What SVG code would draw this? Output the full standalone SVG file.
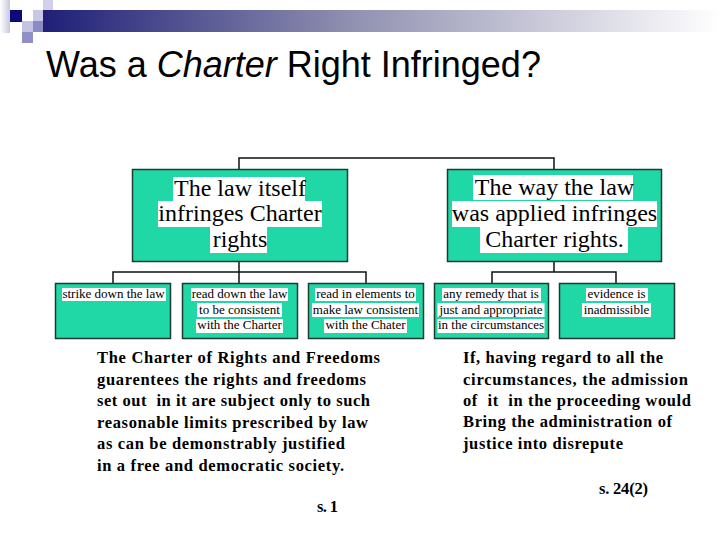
<svg xmlns="http://www.w3.org/2000/svg" width="720" height="540" viewBox="0 0 720 540">
<defs>
<linearGradient id="bar" x1="0" y1="0" x2="1" y2="0">
<stop offset="0" stop-color="#1f1f78"/>
<stop offset="0.45" stop-color="#8f8fb0"/>
<stop offset="1" stop-color="#ffffff"/>
</linearGradient>
<linearGradient id="strip" x1="0" y1="0" x2="1" y2="0">
<stop offset="0" stop-color="#ffffff"/>
<stop offset="1" stop-color="#c8c8e6"/>
</linearGradient>
<style>
.box{fill:#20d8a6;stroke:#1d3a30;stroke-width:1.5}
.hl{fill:#ffffff}
.big{font-family:"Liberation Serif","Times New Roman",serif;font-size:24px;fill:#000;text-anchor:middle}
.sm{font-family:"Liberation Serif","Times New Roman",serif;font-size:13px;fill:#000;text-anchor:middle}
.para{font-family:"Liberation Serif","Times New Roman",serif;font-size:16.5px;font-weight:bold;fill:#000;white-space:pre}
.conn{fill:none;stroke:#111;stroke-width:1.5}
</style>
</defs>
<rect width="720" height="540" fill="#ffffff"/>
<g id="logo">
<rect x="0" y="0" width="10" height="33" fill="url(#strip)"/>
<rect x="43" y="10" width="677" height="22" fill="url(#bar)"/>
<rect x="10" y="10" width="12" height="12" fill="#0c0c78"/>
<rect x="33" y="10" width="10" height="11" fill="#c8c8e4"/>
<rect x="43" y="0" width="10" height="10" fill="#d0d0ea"/>
<rect x="22" y="21" width="11" height="11" fill="#c4c4e2"/>
<rect x="33" y="21" width="10" height="11" fill="#8a8ac4"/>
<rect x="22" y="32" width="11" height="11" fill="#9090c8"/>
</g>
<text id="title" x="46" y="77" font-family="Liberation Sans, Arial, sans-serif" font-size="36" fill="#000">Was a <tspan font-style="italic">Charter</tspan> Right Infringed?</text>
<g id="connectors">
<path class="conn" d="M239 169 V158 H554 V169"/>
<path class="conn" d="M239 261 V283 M113 283 V272 H366 V283"/>
<path class="conn" d="M554 261 V272 M492 283 V272 H616 V283"/>
</g>
<g id="law-itself">
<rect class="box" x="132.5" y="169.5" width="215" height="92"/>
<rect class="hl" x="173" y="177" width="132" height="24"/>
<rect class="hl" x="158" y="201" width="164" height="26"/>
<rect class="hl" x="210" y="227" width="57" height="26"/>
<text class="big" x="240" y="196">The law itself</text>
<text class="big" x="240" y="221">infringes Charter</text>
<text class="big" x="240" y="247">rights</text>
</g>
<g id="law-applied">
<rect class="box" x="447.5" y="169.5" width="214" height="92"/>
<rect class="hl" x="473" y="175" width="160" height="25"/>
<rect class="hl" x="452" y="201" width="205" height="26"/>
<rect class="hl" x="480" y="227" width="148" height="26"/>
<text class="big" x="554.5" y="195">The way the law</text>
<text class="big" x="554.5" y="221">was applied infringes</text>
<text class="big" x="554.5" y="247">Charter rights.</text>
</g>
<g id="strike-down">
<rect class="box" x="55.5" y="283.5" width="115" height="55"/>
<rect class="hl" x="62" y="288" width="104" height="13"/>
<text class="sm" x="113.5" y="298">strike down the law</text>
</g>
<g id="read-down">
<rect class="box" x="182.5" y="283.5" width="115" height="55"/>
<rect class="hl" x="191" y="288" width="97" height="13"/>
<rect class="hl" x="197" y="303" width="85" height="14"/>
<rect class="hl" x="196" y="319" width="87" height="14"/>
<text class="sm" x="239.5" y="298">read down the law</text>
<text class="sm" x="239.5" y="313.5">to be consistent</text>
<text class="sm" x="239.5" y="329">with the Charter</text>
</g>
<g id="read-in">
<rect class="box" x="308.5" y="283.5" width="115" height="55"/>
<rect class="hl" x="315" y="288" width="101" height="13"/>
<rect class="hl" x="312" y="303" width="107" height="14"/>
<rect class="hl" x="324" y="319" width="83" height="14"/>
<text class="sm" x="365.5" y="298">read in elements to</text>
<text class="sm" x="365.5" y="313.5">make law consistent</text>
<text class="sm" x="365.5" y="329">with the Chater</text>
</g>
<g id="any-remedy">
<rect class="box" x="434.5" y="283.5" width="114" height="55"/>
<rect class="hl" x="442" y="288" width="99" height="13"/>
<rect class="hl" x="437.5" y="303" width="107" height="14"/>
<rect class="hl" x="437.5" y="319" width="107" height="14"/>
<text class="sm" x="491" y="298">any remedy that is</text>
<text class="sm" x="491" y="313.5">just and appropriate</text>
<text class="sm" x="491" y="329">in the circumstances</text>
</g>
<g id="inadmissible">
<rect class="box" x="559.5" y="283.5" width="115" height="55"/>
<rect class="hl" x="586" y="288" width="62" height="13"/>
<rect class="hl" x="582" y="303" width="69" height="14"/>
<text class="sm" x="616.5" y="298">evidence is</text>
<text class="sm" x="616.5" y="313.5">inadmissible</text>
</g>
<g id="s1-text">
<text class="para" x="97" y="363" textLength="283" lengthAdjust="spacing">The Charter of Rights and Freedoms</text>
<text class="para" x="97" y="384.5" textLength="269" lengthAdjust="spacing">guarentees the rights and freedoms</text>
<text class="para" x="97" y="406" textLength="273" lengthAdjust="spacing">set out  in it are subject only to such</text>
<text class="para" x="97" y="427.5" textLength="271" lengthAdjust="spacing">reasonable limits prescribed by law</text>
<text class="para" x="97" y="449" textLength="248" lengthAdjust="spacing">as can be demonstrably justified</text>
<text class="para" x="97" y="470.5" textLength="247" lengthAdjust="spacing">in a free and democratic society.</text>
<text class="para" x="317" y="512" textLength="21" lengthAdjust="spacing">s. 1</text>
</g>
<g id="s24-text">
<text class="para" x="463" y="363" textLength="200" lengthAdjust="spacing">If, having regard to all the</text>
<text class="para" x="463" y="384.5" textLength="225" lengthAdjust="spacing">circumstances, the admission</text>
<text class="para" x="463" y="405.5" textLength="228" lengthAdjust="spacing">of  it  in the proceeding would</text>
<text class="para" x="463" y="427" textLength="209" lengthAdjust="spacing">Bring the administration of</text>
<text class="para" x="463" y="448.5" textLength="160" lengthAdjust="spacing">justice into disrepute</text>
<text class="para" x="599" y="493.5" textLength="49" lengthAdjust="spacing">s. 24(2)</text>
</g>
</svg>
